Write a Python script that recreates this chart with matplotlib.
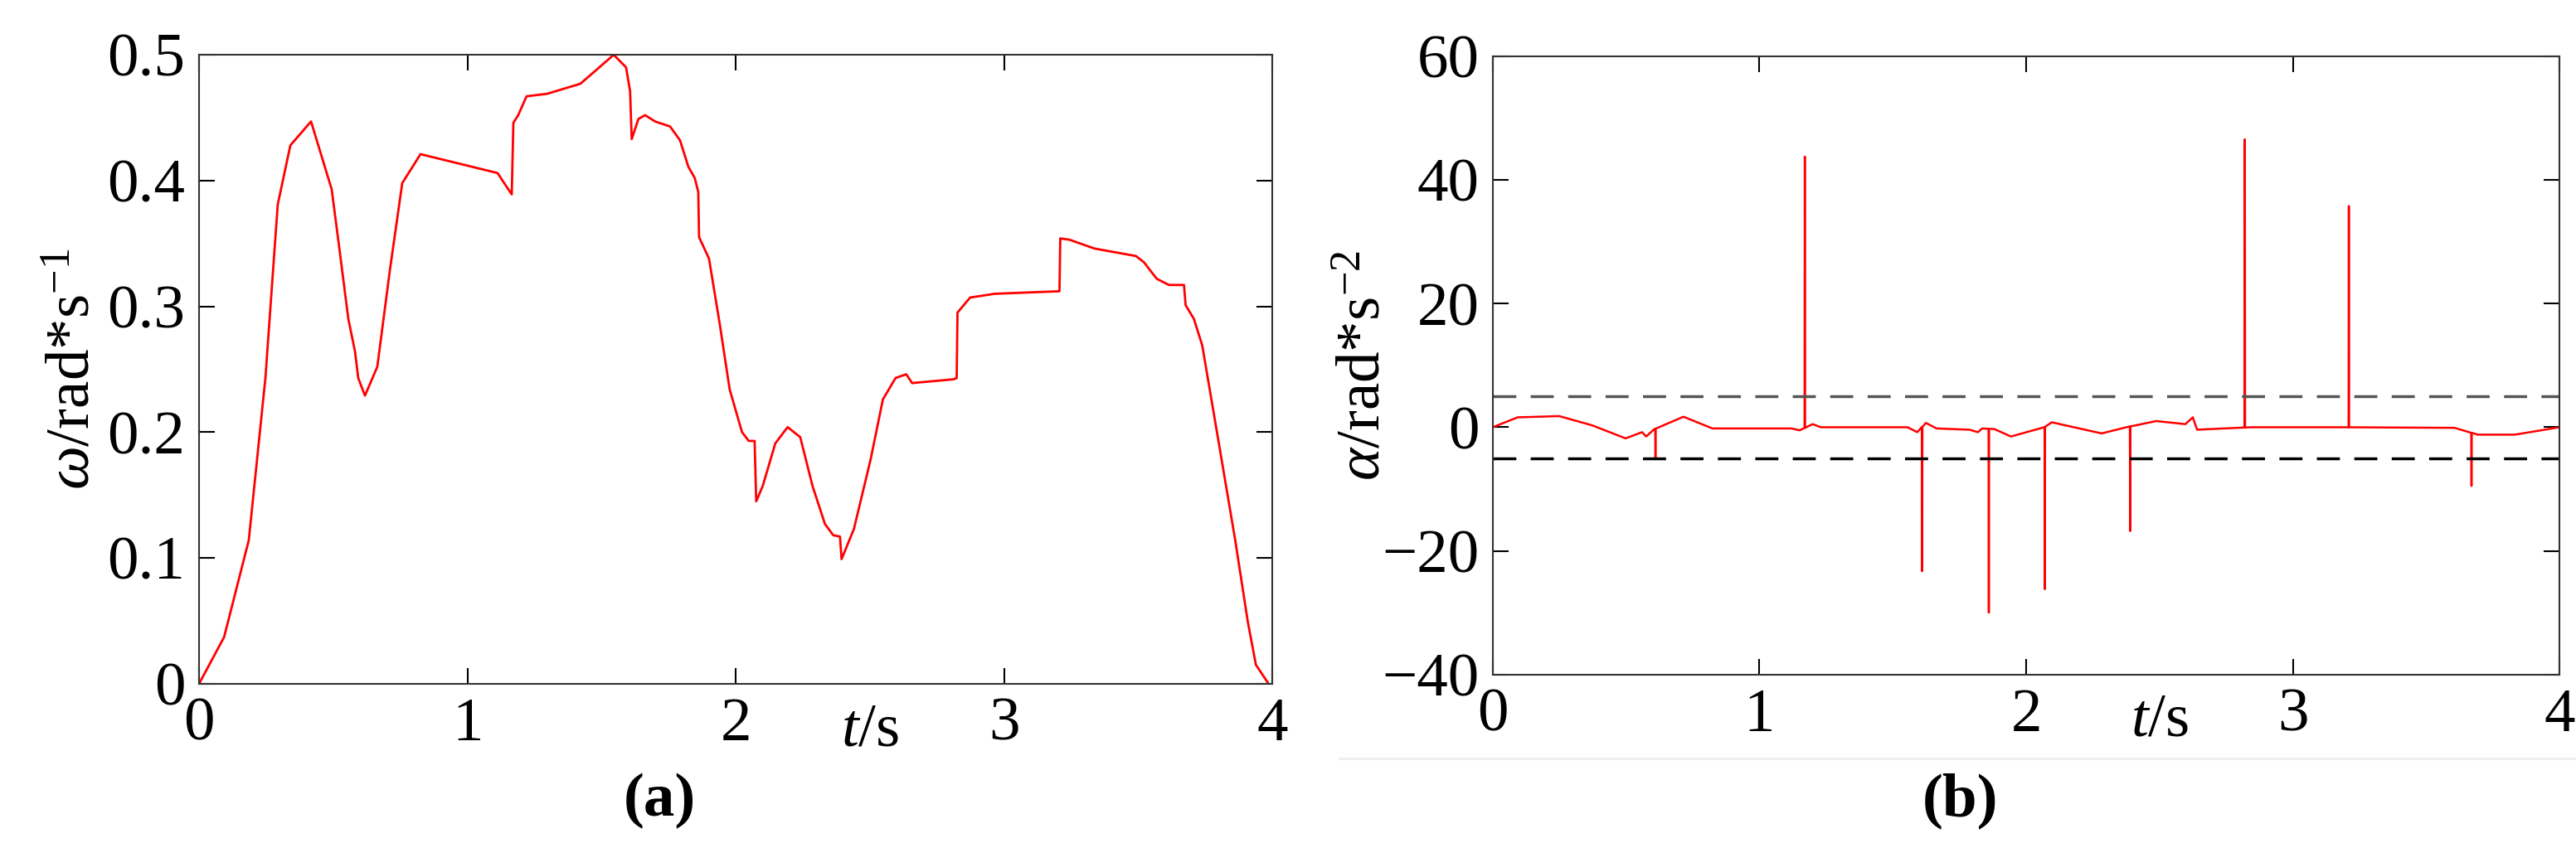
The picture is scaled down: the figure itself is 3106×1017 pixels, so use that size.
import numpy as np
import matplotlib.pyplot as plt

plt.rcParams['font.family'] = 'Liberation Serif'
plt.rcParams['mathtext.fontset'] = 'custom'
plt.rcParams['mathtext.rm'] = 'Liberation Serif'
plt.rcParams['mathtext.it'] = 'Liberation Serif:italic'

# (a) angular velocity
t_w = [0, 0.093, 0.185, 0.247, 0.293, 0.340, 0.417, 0.494, 0.525, 0.556, 0.581, 0.593,
       0.618, 0.664, 0.711, 0.757, 0.825, 1.112, 1.143, 1.165, 1.171, 1.189, 1.220, 1.297,
       1.421, 1.545, 1.591, 1.606, 1.612, 1.637, 1.662, 1.699, 1.755, 1.792, 1.823, 1.847,
       1.860, 1.863, 1.900, 1.940, 1.977, 2.023, 2.048, 2.070, 2.076, 2.100, 2.147, 2.193,
       2.240, 2.286, 2.332, 2.363, 2.388, 2.394, 2.440, 2.502, 2.548, 2.595, 2.635, 2.657,
       2.811, 2.823, 2.826, 2.873, 2.965, 3.206, 3.209, 3.243, 3.336, 3.491, 3.521, 3.568,
       3.614, 3.670, 3.676, 3.707, 3.738, 3.800, 3.861, 3.908, 3.938, 3.985]
omega = [0, 0.037, 0.114, 0.243, 0.381, 0.428, 0.447, 0.393, 0.342, 0.290, 0.264, 0.243,
         0.229, 0.252, 0.329, 0.398, 0.421, 0.406, 0.396, 0.389, 0.446, 0.452, 0.467, 0.469,
         0.477, 0.500, 0.490, 0.471, 0.433, 0.449, 0.452, 0.447, 0.443, 0.432, 0.411, 0.402,
         0.391, 0.355, 0.338, 0.286, 0.234, 0.200, 0.193, 0.193, 0.145, 0.157, 0.191, 0.204,
         0.196, 0.157, 0.127, 0.118, 0.117, 0.099, 0.123, 0.178, 0.226, 0.243, 0.246, 0.239,
         0.242, 0.243, 0.295, 0.307, 0.310, 0.312, 0.354, 0.353, 0.346, 0.340, 0.335, 0.322,
         0.317, 0.317, 0.301, 0.290, 0.269, 0.191, 0.114, 0.049, 0.015, 0]

# (b) angular acceleration: slow baseline plus spikes
t_a = [0, 0.093, 0.249, 0.373, 0.498, 0.560, 0.575, 0.606, 0.715, 0.824, 1.120, 1.151,
       1.199, 1.230, 1.555, 1.592, 1.624, 1.664, 1.788, 1.819, 1.835, 1.881, 1.943, 2.068,
       2.096, 2.283, 2.376, 2.488, 2.597, 2.625, 2.641, 2.843, 3.188, 3.607, 3.693, 3.833, 4.0]
alpha_base = [0, 1.6, 1.8, 0.3, -1.8, -0.8, -1.5, -0.3, 1.7, -0.2, -0.2, -0.5,
              0.5, 0, 0, -0.8, 0.7, -0.2, -0.4, -0.8, -0.2, -0.3, -1.5, 0,
              0.8, -1.0, 0, 1.0, 0.5, 1.6, -0.4, 0, 0, -0.1, -1.2, -1.2, 0]
spike_t = [0.61, 1.17, 1.61, 1.86, 2.07, 2.39, 2.82, 3.21, 3.67]
spike_v = [-5.0, 43.8, -23.3, -30.0, -26.2, -16.8, 46.6, 35.8, -9.5]
limit = 5

FS = 54

fig = plt.figure(figsize=(31.06, 10.17), dpi=100)
ax1 = fig.add_axes([0.0773, 0.189, 0.4167, 0.746])
ax2 = fig.add_axes([0.5795, 0.200, 0.4141, 0.733])

ax1.plot(t_w, omega, color='red', lw=2)
ax1.set_xlim(0, 4)
ax1.set_ylim(0, 0.5)
ax1.set_yticks([0, 0.1, 0.2, 0.3, 0.4, 0.5])
ax1.set_yticklabels(['0', '0.1', '0.2', '0.3', '0.4', '0.5'])
ax1.set_ylabel(r'$\omega$/rad*s$^{-1}$', fontsize=FS, labelpad=4)

# build the alpha trace with spikes inserted into the baseline
ta = list(t_a)
aa = list(alpha_base)
for st, sv in zip(spike_t, spike_v):
    b = np.interp(st, t_a, alpha_base)
    ta += [st - 0.001, st, st + 0.001]
    aa += [b, sv, b]
order = np.argsort(ta, kind='stable')
ta = np.array(ta)[order]
aa = np.array(aa)[order]

ax2.plot(ta, aa, color='red', lw=1.8)
ax2.axhline(limit, color='#555555', ls='--', lw=2.5, dashes=(8, 5))
ax2.axhline(-limit, color='black', ls='--', lw=2.5, dashes=(8, 5))
ax2.set_xlim(0, 4)
ax2.set_ylim(-40, 60)
ax2.set_yticks([-40, -20, 0, 20, 40, 60])
ax2.set_ylabel(r'$\alpha$/rad*s$^{-2}$', fontsize=FS, labelpad=-10)

for ax in (ax1, ax2):
    ax.set_xticks([0, 1, 2, 3, 4])
    ax.tick_params(direction='in', length=14, width=1.5, labelsize=FS,
                   top=True, right=True, pad=12)
    for s in ax.spines.values():
        s.set_linewidth(1.5)
        s.set_color('#333333')
    ax.text(2.5, -0.03, r'$t$/s', transform=ax.get_xaxis_transform(),
            ha='center', va='top', fontsize=FS)

fig.text(0.256, 0.05, '(a)', ha='center', va='center', fontsize=FS, fontweight='bold')
fig.text(0.761, 0.05, '(b)', ha='center', va='center', fontsize=FS, fontweight='bold')
fig.add_artist(plt.Line2D([0.52, 1.0], [0.10, 0.10], color='#eeeeee', lw=2))

fig.savefig('out.png', dpi=100)
